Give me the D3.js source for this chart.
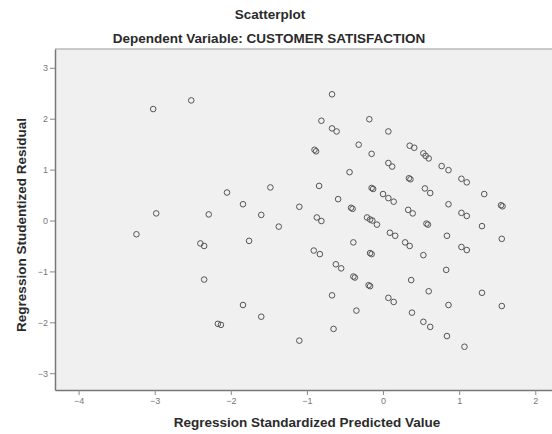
<!DOCTYPE html>
<html>
<head>
<meta charset="utf-8">
<script src="https://cdn.jsdelivr.net/npm/d3@7"></script>
<style>
    body { margin: 0; background: #fff; }
    text { font-family: "Liberation Sans", Arial, sans-serif; }
</style>
</head>
<body>
<div id="chart"></div>
<script>
const chart_width = 552;
const chart_height = 434;

// predicted value (x) and studentized residual (y)
const predicted = [
    -3.02, -2.52, -2.98, -3.24, -2.29, -2.40, -2.35, -2.35, -2.17, -2.13,
    -2.05, -1.48, -1.84, -1.60, -1.76, -1.37, -1.10, -1.84, -1.60, -1.10,
    -0.67, -0.81, -0.67, -0.61, -0.90, -0.88, -0.84, -0.87, -0.81, -0.91,
    -0.83, -0.62, -0.55, -0.67, -0.65, -0.59,
    -0.32, -0.44, -0.42, -0.40, -0.39, -0.39, -0.37, -0.35,
    -0.18, -0.15, -0.15, -0.13, -0.21, -0.17, -0.14, -0.08, -0.17, -0.15, -0.19, -0.17,
    0.07, 0.07, 0.12, 0.00, 0.07, 0.14, 0.09, 0.16, 0.07, 0.14,
    0.35, 0.41, 0.34, 0.36, 0.33, 0.39, 0.29, 0.35, 0.37, 0.38,
    0.53, 0.56, 0.60, 0.55, 0.62, 0.57, 0.59, 0.53, 0.60, 0.53, 0.62,
    0.77, 0.86, 0.86, 0.84, 0.83, 0.86, 0.84,
    1.03, 1.10, 1.03, 1.10, 1.03, 1.10, 1.07,
    1.33, 1.30, 1.30,
    1.55, 1.57, 1.56, 1.56
];
const residual = [
    2.19, 2.36, 0.14, -0.27, 0.12, -0.45, -0.50, -1.16, -2.03, -2.05,
    0.55, 0.65, 0.32, 0.11, -0.40, -0.12, 0.27, -1.66, -1.89, -2.36,
    2.48, 1.96, 1.81, 1.75, 1.39, 1.36, 0.68, 0.06, -0.01, -0.59,
    -0.66, -0.86, -0.94, -1.47, -2.13, 0.42,
    1.49, 0.95, 0.25, 0.23, -0.43, -1.10, -1.12, -1.77,
    1.99, 1.31, 0.64, 0.62, 0.06, 0.02, 0.00, -0.08, -0.64, -0.66, -1.27, -1.29,
    1.75, 1.13, 1.06, 0.52, 0.44, 0.37, -0.24, -0.30, -1.52, -1.60,
    1.47, 1.43, 0.83, 0.81, 0.21, 0.14, -0.43, -0.50, -1.17, -1.81,
    1.32, 1.27, 1.22, 0.63, 0.54, -0.06, -0.08, -0.68, -1.39, -1.99, -2.09,
    1.07, 0.99, 0.32, -0.30, -0.97, -1.66, -2.27,
    0.82, 0.75, 0.15, 0.09, -0.52, -0.58, -2.48,
    0.52, -0.11, -1.42,
    0.30, 0.28, -0.36, -1.68
];

const x_ticks = [-4, -3, -2, -1, 0, 1, 2];
const y_ticks = [-3, -2, -1, 0, 1, 2, 3];

const data = predicted.map((p, i) => ({ x: p, y: residual[i] }));

let margin = {
    top: 49, right: 0, bottom: 44, left: 55
},
    width = chart_width - margin.left - margin.right,
    height = chart_height - margin.top - margin.bottom

const svg = d3.select("#chart").append("svg")
    .attr('width', chart_width)
    .attr('height', chart_height)

// titles
svg.append('text')
    .attr('x', 270)
    .attr('y', 19)
    .attr('text-anchor', 'middle')
    .style('font-size', '13.5px')
    .style('font-weight', 'bold')
    .style('fill', '#2a2a2a')
    .text('Scatterplot')

svg.append('text')
    .attr('x', 269)
    .attr('y', 43)
    .attr('text-anchor', 'middle')
    .style('font-size', '13.5px')
    .style('font-weight', 'bold')
    .style('fill', '#2a2a2a')
    .text('Dependent Variable: CUSTOMER SATISFACTION')

const g = svg.append('g')
    .attr('transform', `translate(${margin.left}, ${margin.top})`)

let x = d3.scaleLinear().domain([-4.31, 2.22]).range([0, width])
let y = d3.scaleLinear().domain([-3.33, 3.37]).range([height, 0])

// plot background
g.append('rect')
    .attr('width', width)
    .attr('height', height)
    .style('fill', '#f0f0f0')

g.append('line')
    .attr('x1', 0).attr('x2', width)
    .attr('y1', 0).attr('y2', 0)
    .style('stroke', '#999')
    .style('stroke-width', 1.2)

// axes
let xAxis = g.append('g')
    .attr('class', 'xAxis')
    .attr('transform', `translate(0, ${height})`)
    .call(d3.axisBottom(x).tickValues(x_ticks).tickFormat(d3.format('d'))
        .tickSize(5).tickSizeOuter(0).tickPadding(3))

let yAxis = g.append('g')
    .attr('class', 'yAxis')
    .call(d3.axisLeft(y).tickValues(y_ticks).tickFormat(d3.format('d'))
        .tickSize(5).tickSizeOuter(0).tickPadding(2))

svg.selectAll('.domain')
    .style('stroke', '#777')
    .style('stroke-width', 1.5)
svg.selectAll('.tick line')
    .style('stroke', '#888')
svg.selectAll('.tick text')
    .style('font-size', '9px')
    .style('fill', '#777')

// points
g.append('g')
    .selectAll('.dot')
    .data(data)
    .enter()
    .append('circle')
    .attr('class', 'dot')
    .attr('cx', d => x(d.x))
    .attr('cy', d => y(d.y))
    .attr('r', 2.8)
    .style('fill', 'none')
    .style('stroke', '#555')
    .style('stroke-width', 1)

// axis titles
svg.append('text')
    .attr('x', 307)
    .attr('y', 427)
    .attr('text-anchor', 'middle')
    .style('font-size', '13.5px')
    .style('font-weight', 'bold')
    .style('fill', '#2a2a2a')
    .text('Regression Standardized Predicted Value')

svg.append('text')
    .attr('transform', 'translate(26, 225) rotate(-90)')
    .attr('text-anchor', 'middle')
    .style('font-size', '13.5px')
    .style('font-weight', 'bold')
    .style('fill', '#2a2a2a')
    .text('Regression Studentized Residual')
</script>
</body>
</html>
